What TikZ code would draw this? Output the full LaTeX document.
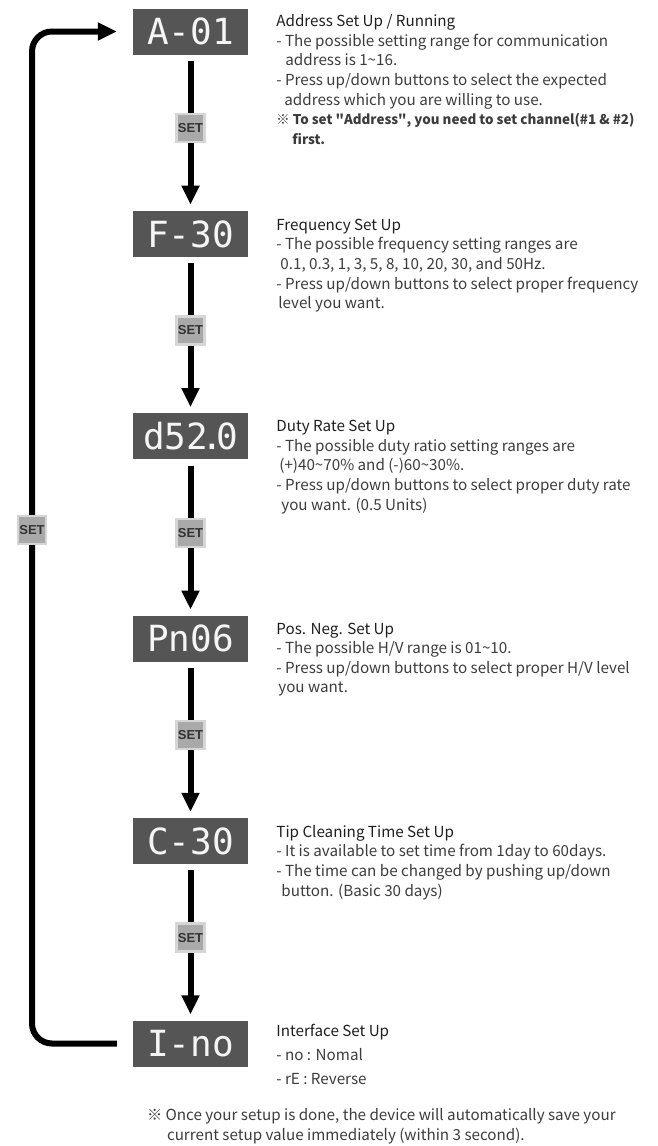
\documentclass[tikz,border=0pt]{standalone}
\usepackage{fontspec}
\setmainfont{Noto Sans CJK KR}
\newfontfamily\segfont{DejaVu Sans Mono}
\newfontfamily\keyfont{Liberation Sans}
\usetikzlibrary{arrows.meta, positioning}
\definecolor{panel}{HTML}{555555}
\definecolor{keyfill}{HTML}{A9A9A9}
\definecolor{keyrim}{HTML}{D6D6D6}
\definecolor{bodytext}{HTML}{3C3C3C}
\definecolor{titletext}{HTML}{1E1E1E}
\tikzstyle{arrow} = [line width=6pt, -{Triangle[width=17pt,length=19pt]}]

\begin{document}
\begin{tikzpicture}[x=1pt, y=1pt, node distance=156pt,
            disp/.style={rectangle, fill=panel, minimum width=115pt, minimum height=46pt, inner sep=0pt, text=gray!8, font=\segfont\fontsize{36}{36}\selectfont},
            setkey/.style={rectangle, fill=keyfill, draw=keyrim, line width=2.5pt, minimum size=28pt, inner sep=0pt, text=black!80, font=\keyfont\bfseries\fontsize{13}{13}\selectfont},
            desc/.style={align=left, inner sep=0pt, text=bodytext, font=\fontsize{15.2}{19.6}\selectfont}]

            \useasboundingbox (0,0) rectangle (658,-1146);

            % Display panels
            \node[disp] (a01) at (190.5,-31.5) {A-01};
            \node[disp, below=of a01] (f30) {F-30};
            \node[disp, below=of f30] (d52) {d52\kern-7pt.\kern-7pt0};
            \node[disp, below=of d52] (pn06) {Pn06};
            \node[disp, below=of pn06] (c30) {C-30};
            \node[disp, below=of c30] (ino) {I-no};

            % Descriptions
            \node[desc, below right=6pt and 28pt of a01.north east] (a01txt) {\textcolor{titletext}{Address Set Up / Running}\\
                - The possible setting range for communication\\
                \hspace*{9pt}address is 1\textasciitilde16.\\
                - Press up/down buttons to select the expected\\
                \hspace*{8pt}address which you are willing to use.\\
                {\bfseries\fontsize{13.4}{19.6}\selectfont ※ To set \textquotedbl Address\textquotedbl, you need to set channel(\#1 \& \#2)}\\
                \hspace*{16pt}{\bfseries\fontsize{13.4}{19.6}\selectfont first.}};
            \node[desc, below right=8pt and 28pt of f30.north east] (f30txt) {\textcolor{titletext}{Frequency Set Up}\\
                - The possible frequency setting ranges are\\
                \hspace*{4pt}0.1, 0.3, 1, 3, 5, 8, 10, 20, 30, and 50Hz.\\
                - Press up/down buttons to select proper frequency\\
                \hspace*{2pt}level you want.};
            \node[desc, below right=7pt and 28pt of d52.north east] (d52txt) {\textcolor{titletext}{Duty Rate Set Up}\\
                - The possible duty ratio setting ranges are\\
                \hspace*{3pt}(+)40\textasciitilde70\% and (-)60\textasciitilde30\%.\\
                - Press up/down buttons to select proper duty rate\\
                \hspace*{5pt}you want. (0.5 Units)};
            \node[desc, below right=7pt and 28pt of pn06.north east] (pn06txt) {\textcolor{titletext}{Pos. Neg. Set Up}\\
                - The possible H/V range is 01\textasciitilde10.\\
                - Press up/down buttons to select proper H/V level\\
                \hspace*{2pt}you want.};
            \node[desc, below right=7pt and 28pt of c30.north east] (c30txt) {\textcolor{titletext}{Tip Cleaning Time Set Up}\\
                - It is available to set time from 1day to 60days.\\
                - The time can be changed by pushing up/down\\
                \hspace*{5pt}button. (Basic 30 days)};
            \node[desc, font=\fontsize{15.2}{24}\selectfont, below right=4pt and 28pt of ino.north east] (inotxt) {\textcolor{titletext}{Interface Set Up}\\
                - no : Nomal\\
                - rE : Reverse};
            \node[desc, font=\fontsize{15.2}{20}\selectfont, below right=41pt and 14pt of ino.south west] (savenote) {※ Once your setup is done, the device will automatically save your\\
                \hspace*{20pt}current setup value immediately (within 3 second).};

            % Arrows
            \draw[arrow, shorten <=6pt, shorten >=6pt] (a01) -- node[setkey, pos=0.47] {SET} (f30);
            \draw[arrow, shorten <=6pt, shorten >=6pt] (f30) -- node[setkey, pos=0.47] {SET} (d52);
            \draw[arrow, shorten <=6pt, shorten >=6pt] (d52) -- node[setkey, pos=0.47] {SET} (pn06);
            \draw[arrow, shorten <=6pt, shorten >=6pt] (pn06) -- node[setkey, pos=0.47] {SET} (c30);
            \draw[arrow, shorten <=6pt, shorten >=6pt] (c30) -- node[setkey, pos=0.47] {SET} (ino);

            % Back to start
            \coordinate (loopturn) at (32,-530);
            \draw[arrow, rounded corners=20pt, shorten <=16pt, shorten >=16pt] (ino.west) -| (loopturn) |- (a01.west);
            \node[setkey] (setloop) at (loopturn) {SET};
        \end{tikzpicture}
\end{document}
